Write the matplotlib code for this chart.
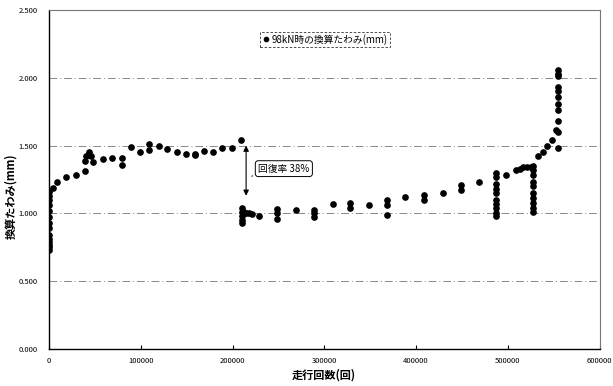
import matplotlib
matplotlib.use("Agg")
import matplotlib.pyplot as plt
from matplotlib.ticker import FixedLocator

plt.rcParams['font.family'] = ['Noto Sans CJK JP', 'DejaVu Sans']

# ---- data ----
x_vals = (
    [0] * 14
    + [4700, 8700, 19000, 29000, 39000]
    + [39000, 40000, 42000, 44000, 46000, 48000]
    + [59000, 69000, 79400, 79400, 89500, 99300, 109000, 109000, 119500, 129000,
       139000, 149000, 159000, 159000, 169000, 179000, 189000, 199000, 209000]
    + [210000] * 5
    + [212000, 215000, 218000, 221000, 229000]
    + [249000, 249000, 249000, 269000, 289000, 289000, 289000, 309000, 328500, 328500,
       348700, 368600, 368600, 368600, 388500, 408300, 408300, 428900, 448700, 448700,
       468600]
    + [487700] * 10
    + [498500, 509000, 513000, 517000, 521000, 525000, 528000]
    + [528000] * 9
    + [532800, 537900, 543300, 548000, 552700]
    + [555000] * 11
)
y_vals = (
    [1.16, 1.13, 1.10, 1.06, 1.02, 0.97, 0.93, 0.89, 0.84, 0.81, 0.79, 0.77, 0.75, 0.73]
    + [1.19, 1.23, 1.27, 1.28, 1.31]
    + [1.39, 1.42, 1.43, 1.45, 1.42, 1.38]
    + [1.40, 1.41, 1.41, 1.36, 1.49, 1.45, 1.51, 1.47, 1.50, 1.475,
       1.45, 1.44, 1.44, 1.43, 1.46, 1.455, 1.48, 1.48, 1.54]
    + [1.04, 1.01, 0.98, 0.95, 0.93]
    + [1.01, 1.00, 1.00, 0.995, 0.98]
    + [1.03, 1.00, 0.96, 1.025, 1.025, 1.00, 0.97, 1.07, 1.075, 1.04,
       1.06, 1.10, 1.06, 0.99, 1.12, 1.135, 1.10, 1.15, 1.21, 1.17,
       1.23]
    + [1.295, 1.27, 1.22, 1.18, 1.15, 1.10, 1.07, 1.04, 1.00, 0.98]
    + [1.28, 1.32, 1.33, 1.34, 1.345, 1.345, 1.35]
    + [1.32, 1.28, 1.235, 1.20, 1.15, 1.11, 1.075, 1.04, 1.01]
    + [1.42, 1.45, 1.50, 1.54, 1.615]
    + [2.06, 2.03, 2.01, 1.935, 1.90, 1.86, 1.81, 1.76, 1.68, 1.60, 1.48]
)
series_label = "98kN時の換算たわみ(mm)"
x_ticks = [0, 100000, 200000, 300000, 400000, 500000, 600000]
y_ticks = [0.0, 0.5, 1.0, 1.5, 2.0, 2.5]
x_label = "走行回数(回)"
y_label = "換算たわみ(mm)"
note_text = "回復率 38%"

fig = plt.figure(figsize=(6.13, 3.86), dpi=100)
ax = fig.add_axes([0.080, 0.096, 0.898, 0.878])

ax.plot(x_vals, y_vals, 'o', color='black', markersize=3.8, label=series_label,
        zorder=3)

ax.set_xlim(0, 600000)
ax.set_ylim(0, 2.5)
ax.xaxis.set_major_locator(FixedLocator(x_ticks))
ax.yaxis.set_major_locator(FixedLocator(y_ticks))
ax.set_xticklabels([str(t) for t in x_ticks], fontsize=5.5)
ax.set_yticklabels([f"{t:.3f}" for t in y_ticks], fontsize=5.5)
ax.tick_params(axis='x', direction='in', length=3, pad=6)
ax.tick_params(axis='y', direction='in', length=0, pad=8)

for yv in [0.5, 1.0, 1.5, 2.0]:
    ax.axhline(yv, color='#888888', linewidth=0.7,
               linestyle=(0, (8, 3, 1, 3)), zorder=1)

for s in ['top', 'right']:
    ax.spines[s].set_color('#777777')
    ax.spines[s].set_linewidth(0.8)
for s in ['left', 'bottom']:
    ax.spines[s].set_color('black')
    ax.spines[s].set_linewidth(1.0)

ax.set_xlabel(x_label, fontsize=8, fontweight='bold', labelpad=2)
ax.set_ylabel(y_label, fontsize=8, fontweight='bold', labelpad=4)
ax.yaxis.set_label_coords(-0.058, 0.45)

leg = ax.legend(loc='upper left', bbox_to_anchor=(0.375, 0.95), fontsize=7,
                frameon=True, fancybox=False, handletextpad=0.2,
                borderpad=0.2, handlelength=0.8, markerscale=0.8)
leg.get_frame().set_edgecolor('black')
leg.get_frame().set_linestyle((0, (3, 2)))
leg.get_frame().set_linewidth(0.6)

# recovery arrow
ax.annotate('', xy=(214800, 1.13), xytext=(214800, 1.50),
            arrowprops=dict(arrowstyle='<|-|>', color='black', lw=0.8,
                            mutation_scale=8, shrinkA=0, shrinkB=0))
ax.annotate(note_text, xy=(218000, 1.27), xytext=(228000, 1.33),
            fontsize=7, va='center', ha='left',
            bbox=dict(boxstyle='round,pad=0.3', fc='white', ec='black', lw=0.7),
            arrowprops=dict(arrowstyle='-', color='black', lw=0.7))

fig.savefig('out.png', dpi=100)
